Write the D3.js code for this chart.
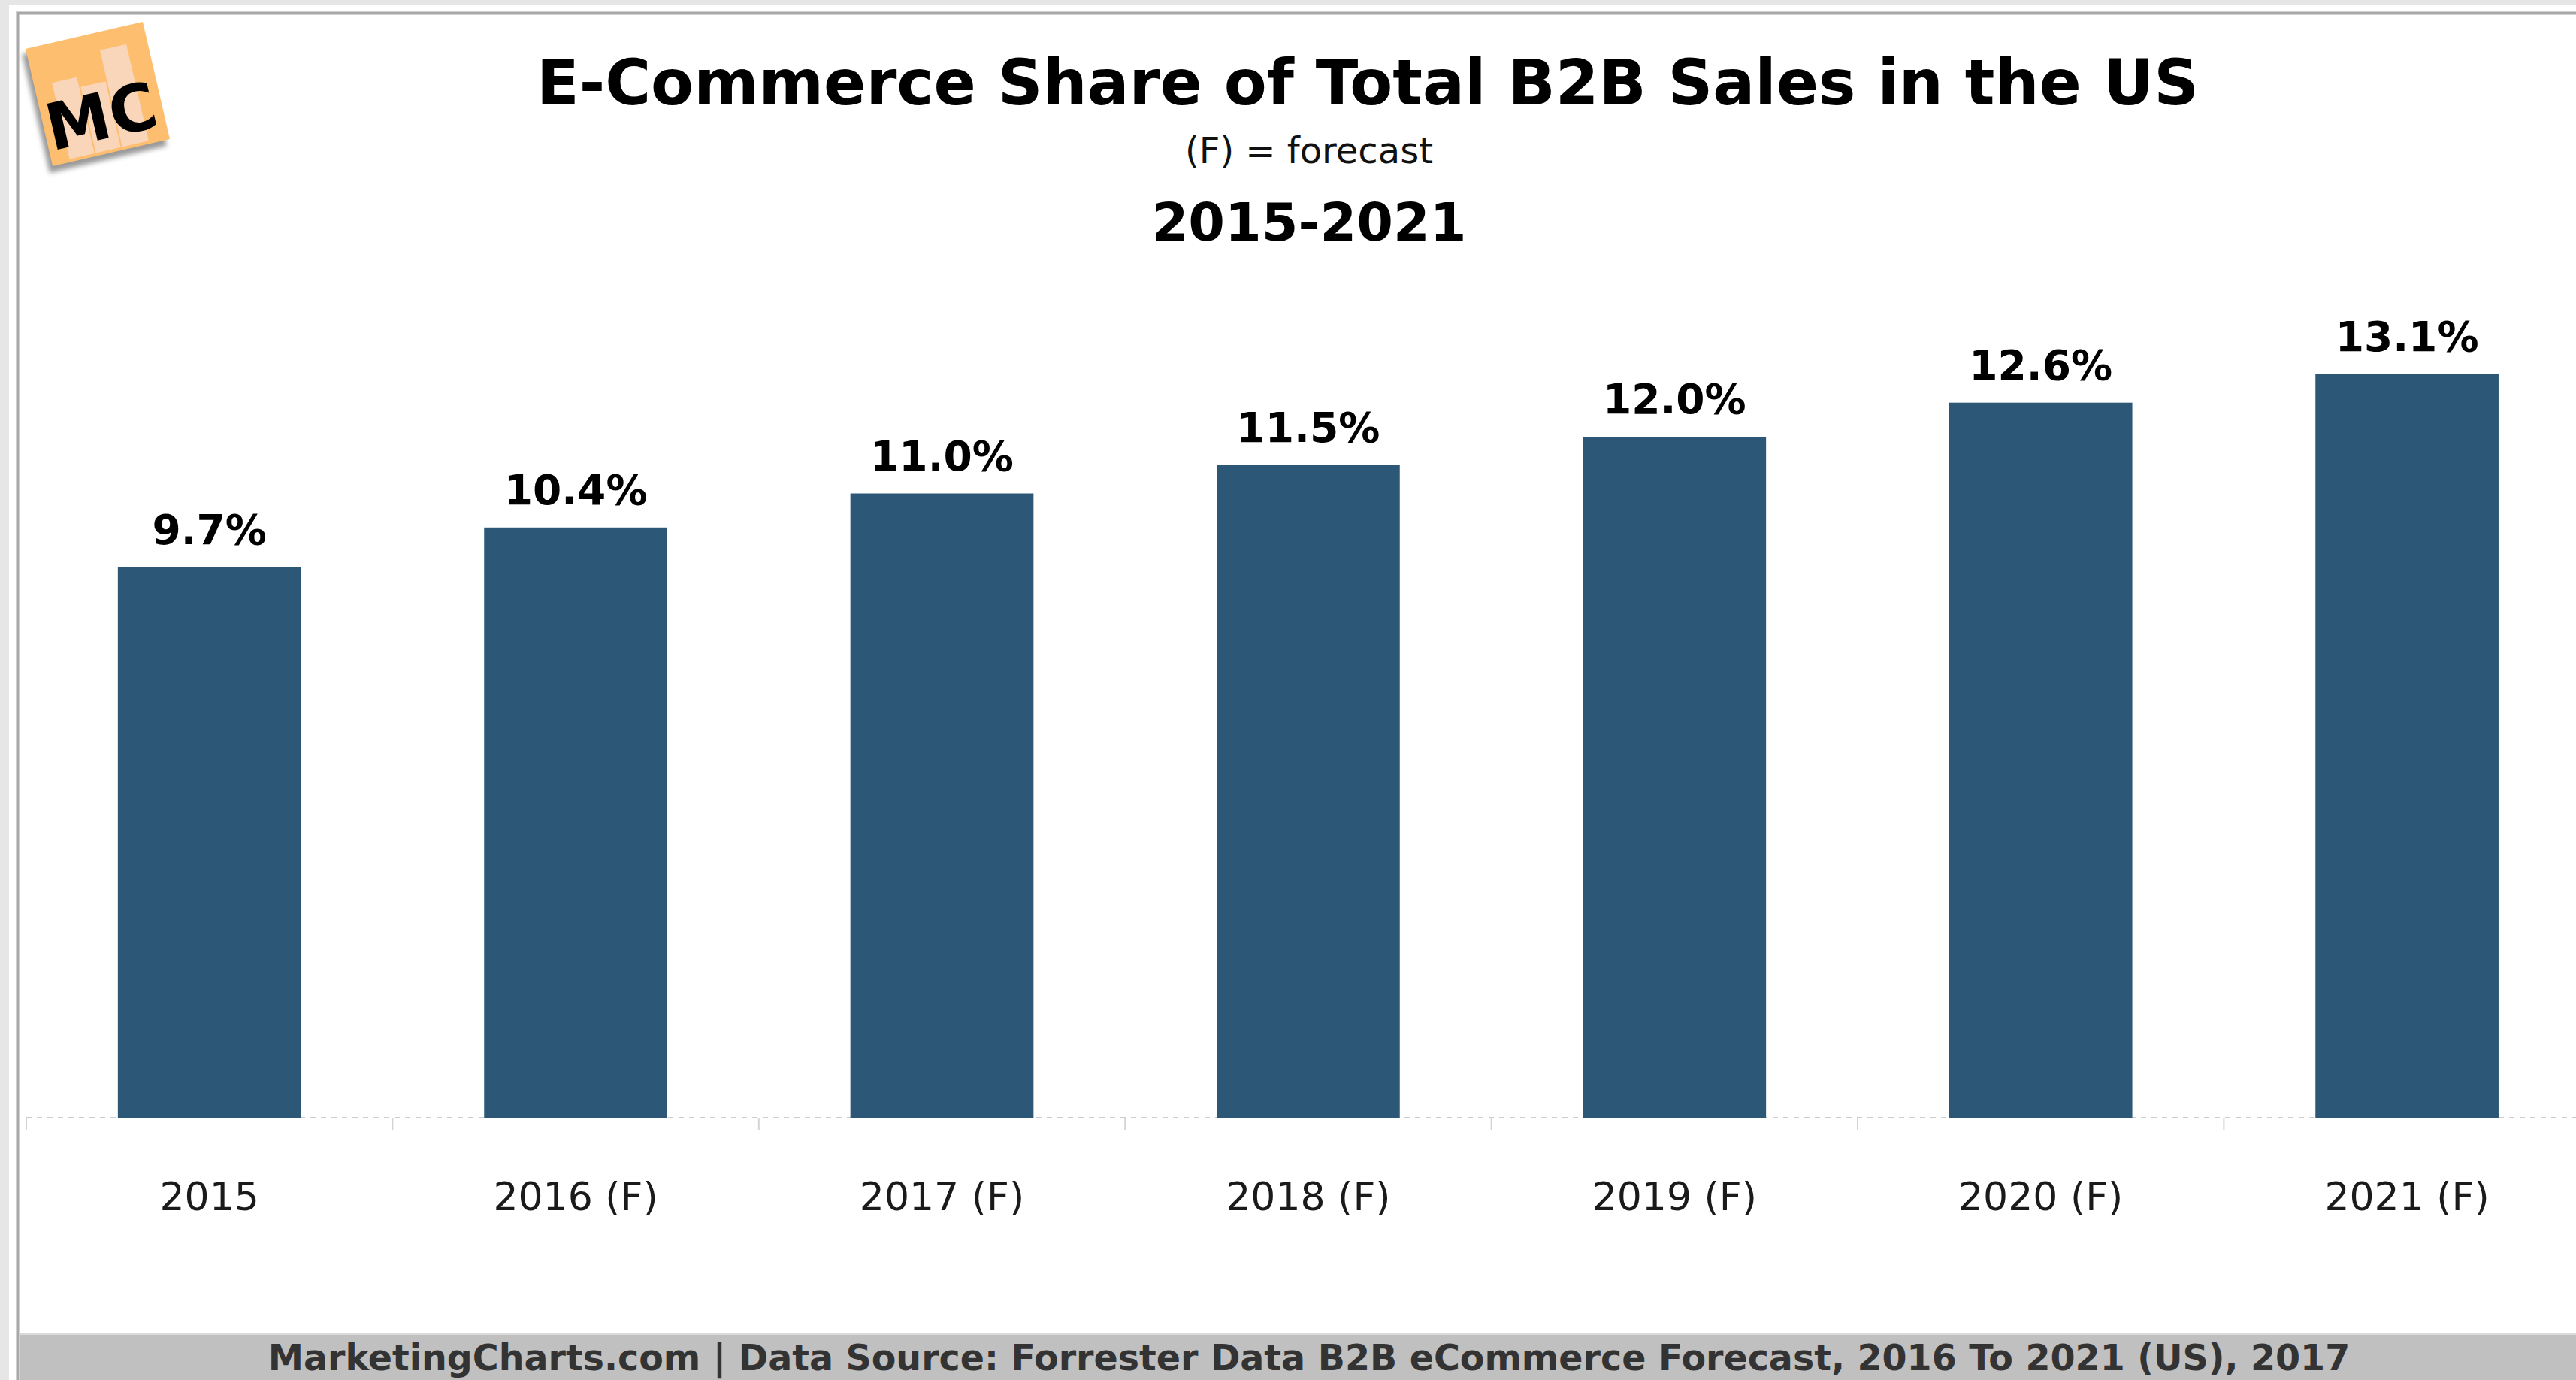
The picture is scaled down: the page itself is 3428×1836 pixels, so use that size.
<!DOCTYPE html>
<html>
<head>
<meta charset="utf-8">
<script src="https://cdn.jsdelivr.net/npm/d3@7"></script>
<style>
  html, body { margin: 0; padding: 0; background: #e6e6e6; }
  svg { display: block; }
  text { font-family: "DejaVu Sans", Verdana, sans-serif; }
</style>
</head>
<body>
<svg id="chart" width="3428" height="1836"></svg>
<script>
// Chart data
const categories = ["2015", "2016 (F)", "2017 (F)", "2018 (F)", "2019 (F)", "2020 (F)", "2021 (F)"];
const shareValues = [9.7, 10.4, 11.0, 11.5, 12.0, 12.6, 13.1];
const titleText = "E-Commerce Share of Total B2B Sales in the US";
const subtitleText = "(F) = forecast";
const periodText = "2015-2021";
const footerText = "MarketingCharts.com | Data Source: Forrester Data B2B eCommerce Forecast, 2016 To 2021 (US), 2017";

const W = 3428, H = 1836;
const svg = d3.select("#chart");

// Page frame
svg.append("rect").attr("x", 0).attr("y", 0).attr("width", W).attr("height", H).attr("fill", "#e6e6e6");
svg.append("rect").attr("x", 12).attr("y", 6).attr("width", W - 12).attr("height", H - 6).attr("fill", "#ffffff");
svg.append("rect").attr("x", 23.5).attr("y", 17.5).attr("width", W).attr("height", H)
  .attr("fill", "none").attr("stroke", "#a8a8a8").attr("stroke-width", 4);
svg.append("rect").attr("x", 21.5).attr("y", 15.5).attr("width", W).attr("height", H)
  .attr("fill", "none").attr("stroke", "#d0d0d0").attr("stroke-width", 1);

// Footer band
svg.append("rect").attr("x", 26).attr("y", 1775).attr("width", W - 26).attr("height", H - 1775).attr("fill", "#c0c0c0");
svg.append("line").attr("x1", 26).attr("x2", W).attr("y1", 1775).attr("y2", 1775)
  .attr("stroke", "#dadada").attr("stroke-width", 2);
svg.append("text").attr("x", 1742).attr("y", 1823).attr("text-anchor", "middle")
  .attr("font-size", 47.5).attr("font-weight", "bold").attr("fill", "#333333")
  .text(footerText);

// Logo
const defs = svg.append("defs");
defs.append("filter").attr("id", "logoShadow").attr("x", "-30%").attr("y", "-30%").attr("width", "160%").attr("height", "160%")
  .append("feGaussianBlur").attr("stdDeviation", 3);
const logo = svg.append("g").attr("transform", "translate(130,125) rotate(-13)");
logo.append("rect").attr("x", -86).attr("y", -74).attr("width", 160).attr("height", 162)
  .attr("fill", "#9a9a9a").attr("filter", "url(#logoShadow)");
logo.append("rect").attr("x", -80).attr("y", -80).attr("width", 160).attr("height", 160).attr("fill", "#fdbf6f");
[[-56, -28, 34], [-20, -14, 34], [16, -56, 36]].forEach(([bx, by, bw]) => {
  logo.append("rect").attr("x", bx).attr("y", by).attr("width", bw).attr("height", 76 - by).attr("fill", "#f9d5b9");
});
logo.append("text").attr("x", -2).attr("y", 60).attr("text-anchor", "middle")
  .attr("font-size", 86).attr("font-weight", "bold").attr("fill", "#000000").text("MC");

// Titles
svg.append("text").attr("x", 1820).attr("y", 139).attr("text-anchor", "middle")
  .attr("font-size", 83).attr("font-weight", "bold").attr("fill", "#000000").text(titleText);
svg.append("text").attr("x", 1742).attr("y", 217).attr("text-anchor", "middle")
  .attr("font-size", 48).attr("fill", "#111111").text(subtitleText);
svg.append("text").attr("x", 1742).attr("y", 320).attr("text-anchor", "middle")
  .attr("font-size", 70).attr("font-weight", "bold").attr("fill", "#000000").text(periodText);

// Scales
const baseY = 1487;
const x = d3.scaleBand().domain(categories).range([35, 35 + 7 * 487.4]).paddingInner(0.5).paddingOuter(0.25);
const y = d3.scaleLinear().domain([0, 14]).range([baseY, baseY - 14 * 75.5]);

// Category boundary ticks and dashed baseline
const step = x.step();
const boundaries = categories.map(c => x(c) - (step - x.bandwidth()) / 2);
svg.append("g").selectAll("line").data(boundaries).join("line")
  .attr("x1", d => d).attr("x2", d => d).attr("y1", baseY).attr("y2", baseY + 17)
  .attr("stroke", "#d4d4d4").attr("stroke-width", 2);
svg.append("line").attr("x1", 35).attr("x2", W).attr("y1", baseY).attr("y2", baseY)
  .attr("stroke", "#cccccc").attr("stroke-width", 2).attr("stroke-dasharray", "7,7");

// Bars
svg.append("g").selectAll("rect").data(shareValues).join("rect")
  .attr("x", (d, i) => x(categories[i]))
  .attr("width", x.bandwidth())
  .attr("y", d => y(d))
  .attr("height", d => y(0) - y(d))
  .attr("fill", "#2c5777");

// Value labels
const fmt = d => d3.format(".1f")(d) + "%";
svg.append("g").selectAll("text").data(shareValues).join("text")
  .attr("x", (d, i) => x(categories[i]) + x.bandwidth() / 2)
  .attr("y", d => y(d) - 31)
  .attr("text-anchor", "middle")
  .attr("font-size", 55).attr("font-weight", "bold").attr("fill", "#000000")
  .text(fmt);

// Category axis labels
const axis = d3.axisBottom(x).tickSizeInner(0).tickSizeOuter(0).tickPadding(86);
const axisG = svg.append("g").attr("transform", `translate(0,${baseY})`).call(axis);
axisG.select(".domain").remove();
axisG.selectAll("text")
  .attr("font-family", "'DejaVu Sans', Verdana, sans-serif")
  .attr("font-size", 52).attr("fill", "#1a1a1a");
</script>
</body>
</html>
